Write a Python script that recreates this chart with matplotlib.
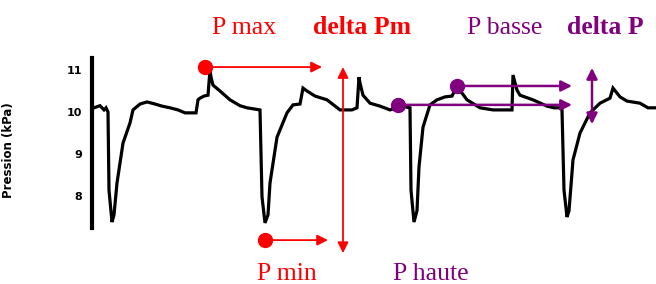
import matplotlib
matplotlib.use("agg")
import matplotlib.pyplot as plt

# pressure trace (time in s, pressure in kPa)
time_s = [0.02, 0.08, 0.12, 0.14, 0.16, 0.17, 0.20, 0.22, 0.25, 0.31, 0.38, 0.41,
          0.48, 0.55, 0.63, 0.70, 0.78, 0.86, 0.93, 1.04, 1.06, 1.08, 1.12, 1.16,
          1.18, 1.19, 1.21, 1.28, 1.38, 1.48, 1.55, 1.68, 1.70, 1.73, 1.76, 1.78,
          1.85, 1.95, 2.01, 2.08, 2.11, 2.15, 2.23, 2.35, 2.48, 2.60, 2.65, 2.67,
          2.68, 2.71, 2.78, 2.88, 2.98, 3.10, 3.18, 3.19, 3.22, 3.25, 3.27, 3.31,
          3.38, 3.45, 3.53, 3.60, 3.63, 3.65, 3.70, 3.75, 3.88, 4.01, 4.10, 4.20,
          4.21, 4.25, 4.28, 4.41, 4.55, 4.62, 4.68, 4.70, 4.72, 4.75, 4.77, 4.81,
          4.88, 4.98, 5.08, 5.18, 5.21, 5.28, 5.35, 5.48, 5.56, 5.64]
pressure_kpa = [10.10, 10.15, 10.05, 10.10, 10.00, 8.14, 7.38, 7.55, 8.31, 9.26, 9.74, 10.05,
                10.19, 10.24, 10.19, 10.14, 10.10, 10.05, 9.98, 9.98, 10.29, 10.33, 10.38, 10.40,
                11.00, 10.83, 10.64, 10.50, 10.29, 10.15, 10.10, 10.05, 7.98, 7.36, 7.55, 8.31,
                9.40, 9.98, 10.17, 10.19, 10.57, 10.50, 10.38, 10.29, 10.05, 10.05, 10.10, 10.83,
                10.69, 10.40, 10.21, 10.14, 10.05, 10.14, 10.10, 8.14, 7.38, 7.65, 8.69, 9.64,
                10.17, 10.29, 10.36, 10.38, 10.52, 10.52, 10.45, 10.29, 10.10, 10.05, 10.05, 10.05,
                10.88, 10.52, 10.40, 10.29, 10.14, 10.10, 10.10, 10.05, 8.14, 7.50, 7.65, 8.86,
                9.50, 9.98, 10.21, 10.33, 10.57, 10.36, 10.26, 10.21, 10.10, 10.10]

y_ticks = [8, 9, 10, 11]

# annotation points: (start time, pressure, arrow end time)
red_points = [(1.13, 11.07, 2.30), (1.73, 6.95, 2.36)]
purple_points = [(3.06, 10.17, 4.80), (3.65, 10.62, 4.80)]
delta_pm = (2.51, 11.07, 6.64)
delta_p = (5.00, 11.05, 9.71)

red_labels = [("P max", 1.20, 11.86, "normal"), ("delta Pm", 2.21, 11.86, "bold"),
              ("P min", 1.65, 6.01, "normal")]
purple_labels = [("P basse", 3.75, 11.86, "normal"), ("delta P", 4.75, 11.86, "bold"),
                 ("P haute", 3.01, 6.01, "normal")]

RED = "#ff0000"
PURPLE = "#800080"

fig = plt.figure(figsize=(6.56, 2.84), dpi=100)
ax = fig.add_axes([0, 0, 1, 1])
ax.set_xlim(-0.92, 5.64)
ax.set_ylim(5.905, 12.667)

ax.plot(time_s, pressure_kpa, color="black", linewidth=2.3, solid_joinstyle="miter")

# left axis drawn like the scan
for side in ["top", "right", "bottom"]:
    ax.spines[side].set_visible(False)
ax.spines["left"].set_position(("data", 0))
ax.spines["left"].set_bounds(7.24, 11.29)
ax.spines["left"].set_linewidth(3)
ax.set_xticks([])
ax.set_yticks(y_ticks)
ax.tick_params(axis="y", length=0, pad=7, labelsize=8)
for lab in ax.get_yticklabels():
    lab.set_fontweight("bold")
ax.set_ylabel("Pression (kPa)", fontsize=8.5, fontweight="bold")
ax.yaxis.set_label_coords(0.023, 0.47)

arrow_kw = dict(arrowstyle="-|>", mutation_scale=16, shrinkA=0, shrinkB=0)
for x0, y0, x1 in red_points:
    ax.plot(x0, y0, "o", color=RED, markersize=10)
    ax.annotate("", xy=(x1, y0), xytext=(x0, y0),
                arrowprops=dict(color=RED, lw=1.3, **arrow_kw))
for x0, y0, x1 in purple_points:
    ax.plot(x0, y0, "o", color=PURPLE, markersize=10)
    ax.annotate("", xy=(x1, y0), xytext=(x0, y0),
                arrowprops=dict(color=PURPLE, lw=1.8, **arrow_kw))

both_kw = dict(arrowstyle="<|-|>", mutation_scale=16, shrinkA=0, shrinkB=0)
ax.annotate("", xy=(delta_pm[0], delta_pm[1]), xytext=(delta_pm[0], delta_pm[2]),
            arrowprops=dict(color=RED, lw=1.3, **both_kw))
ax.annotate("", xy=(delta_p[0], delta_p[1]), xytext=(delta_p[0], delta_p[2]),
            arrowprops=dict(color=PURPLE, lw=1.8, **both_kw))

for text, x, y, weight in red_labels:
    ax.text(x, y, text, color=RED, fontsize=18.5, fontweight=weight,
            family="Liberation Serif", va="baseline")
for text, x, y, weight in purple_labels:
    ax.text(x, y, text, color=PURPLE, fontsize=18.5, fontweight=weight,
            family="Liberation Serif", va="baseline")

fig.savefig("out.png", dpi=100)
plt.close(fig)
